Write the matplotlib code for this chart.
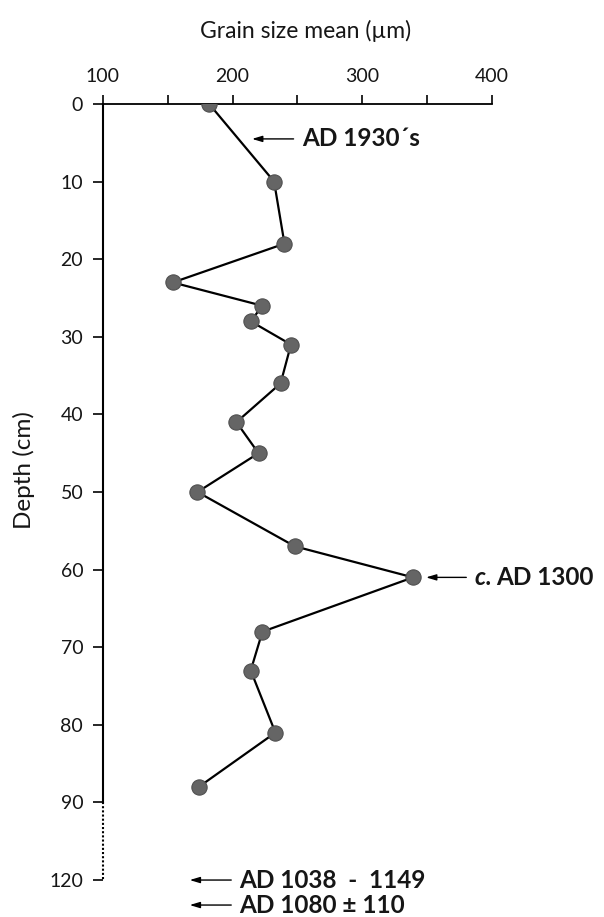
import numpy as np
import matplotlib
matplotlib.use("Agg")
import matplotlib.pyplot as plt

plt.rcParams['font.family'] = ['Lato', 'DejaVu Sans']

# grain size profile
depth_cm = [0, 10, 18, 23, 26, 28, 31, 36, 41, 45, 50, 57, 61, 68, 73, 81, 88]
grain_um = [182, 232, 240, 154, 223, 214, 245, 237, 203, 220, 173, 248, 339, 223, 214, 233, 174]

x_ticks = [100, 150, 200, 250, 300, 350, 400]
x_labels = ['100', '', '200', '', '300', '', '400']
y_ticks_cm = [0, 10, 20, 30, 40, 50, 60, 70, 80, 90, 120]

# dated horizons: prefix (italic), label, depth, arrow head x, arrow tail x
date_prefix = ['', 'c.', '', '']
date_labels = ["AD 1930\u00b4s", "AD 1300", "AD 1038  -  1149", "AD 1080 \u00b1 110"]
date_depths = [4.5, 61, 120, 120]
arrow_head = [215, 349, 167, 167]
arrow_tail = [247, 380, 199, 199]
line_shift_px = [0, 0, 0, 25]   # second label stacked under the 120 cm date

BREAK = 90      # depth where the axis gets compressed
SQUEEZE = 3.0   # 30 cm below the break drawn as 10


def ymap(d):
    d = np.asarray(d, dtype=float)
    return np.where(d <= BREAK, d, BREAK + (d - BREAK) / SQUEEZE)


TXT = '#161616'

fig = plt.figure(figsize=(6.04, 9.17), dpi=100)
ax = fig.add_axes([0.170, 0.0403, 0.645, 0.8463])

ax.plot(grain_um, ymap(depth_cm), color='black', lw=1.6, zorder=2)
ax.plot(grain_um, ymap(depth_cm), ls='none', marker='o', ms=11,
        mfc='#656565', mec='#505050', mew=0.8, zorder=3)

ax.set_xlim(100, 400)
ymax = float(ymap(120))
ax.set_ylim(ymax, 0)

ax.xaxis.tick_top()
ax.xaxis.set_label_position('top')
ax.set_xticks(x_ticks)
ax.set_xticklabels(x_labels)
ax.set_yticks(ymap(y_ticks_cm))
ax.set_yticklabels([str(v) for v in y_ticks_cm])

ax.tick_params(axis='x', direction='out', length=6.5, width=1.3, pad=7,
               labelsize=14, colors=TXT)
ax.tick_params(axis='y', direction='out', length=7, width=1.3, pad=7,
               labelsize=14, colors=TXT)

for s in ['right', 'bottom']:
    ax.spines[s].set_visible(False)
ax.spines['top'].set_linewidth(1.3)
ax.spines['left'].set_linewidth(1.5)
ax.spines['left'].set_bounds(0, BREAK)
# dotted part of the depth axis below the break
ax.plot([100, 100], [BREAK, ymax], ls=(0, (1, 1)), color='black',
        lw=1.5, clip_on=False)

ax.set_xlabel('Grain size mean (\u00b5m)', fontsize=16.5, color=TXT)
ax.xaxis.set_label_coords(0.522, 1.085)
ax.set_ylabel('Depth (cm)', fontsize=17.5, color=TXT)
ax.yaxis.set_label_coords(-0.175, 0.528)

# pixels per data unit on the depth axis
px_per_unit = ax.bbox.height / ymax

for pre, lab, d, hx, tx, sh in zip(date_prefix, date_labels, date_depths,
                                    arrow_head, arrow_tail, line_shift_px):
    y = float(ymap(d)) + sh / px_per_unit
    ax.annotate('', xy=(hx, y), xytext=(tx, y),
                arrowprops=dict(arrowstyle='-|>,head_length=0.6,head_width=0.18',
                                color='black', lw=1.0, shrinkA=0, shrinkB=0),
                annotation_clip=False)
    t = ax.annotate(pre + ' ' if pre else '', xy=(tx, y), xytext=(6, 0),
                    textcoords='offset points', fontsize=17.5, fontweight='bold',
                    fontstyle='italic', color=TXT, va='center', ha='left',
                    annotation_clip=False)
    ax.annotate(lab, xy=(1, 0.5), xycoords=t, va='center', ha='left',
                fontsize=17.5, fontweight='bold', color=TXT,
                annotation_clip=False)

fig.savefig('out.png', dpi=100)
